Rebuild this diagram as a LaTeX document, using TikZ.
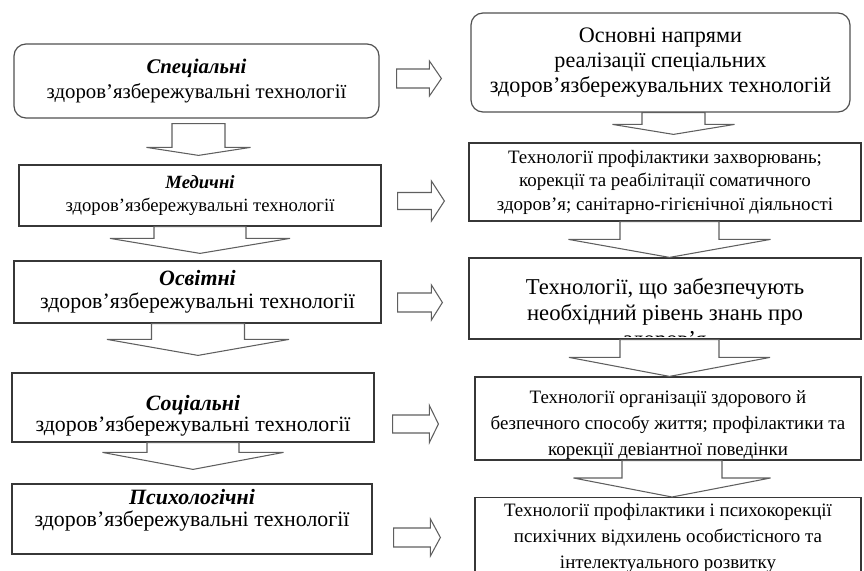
\documentclass[tikz,border=0pt]{standalone}
\usepackage{fontspec}
\setmainfont{Liberation Serif}
\usepackage{xcolor}
\definecolor{boxgray}{RGB}{55,55,55}
\definecolor{roundgray}{RGB}{80,80,80}
\definecolor{arrowgray}{RGB}{95,95,95}
\usepackage{tikz}
\usetikzlibrary{calc}

%% hollow block arrow pointing down: from, to, dx, shaft half, head half, head length, tip gap, start gap (px)
\newcommand{\vblock}[8]{%
  \draw[blockarr] let \p1=($(#1.south)+(#3,#8)$), \p2=($(#2.north)+(0,-#7)$) in
    ({\x1-#4*0.75pt},\y1) -- ({\x1-#4*0.75pt},{\y2+#6*0.75pt})
    -- ({\x1-#5*0.75pt},{\y2+#6*0.75pt}) -- (\x1,\y2)
    -- ({\x1+#5*0.75pt},{\y2+#6*0.75pt}) -- ({\x1+#4*0.75pt},{\y2+#6*0.75pt})
    -- ({\x1+#4*0.75pt},\y1) -- cycle;}
%% hollow block arrow pointing right: from, to, left gap, right gap, dy, shaft half, head half, head length (px)
\newcommand{\hblock}[8]{%
  \draw[blockarr] let \p1=($(#1.east)+(#3,#5)$), \p2=($(#2.west)+(-#4,0)$) in
    (\x1,{\y1+#6*0.75pt}) -- ({\x2-#8*0.75pt},{\y1+#6*0.75pt})
    -- ({\x2-#8*0.75pt},{\y1+#7*0.75pt}) -- (\x2,\y1)
    -- ({\x2-#8*0.75pt},{\y1-#7*0.75pt}) -- ({\x2-#8*0.75pt},{\y1-#6*0.75pt})
    -- (\x1,{\y1-#6*0.75pt}) -- cycle;}

\begin{document}
\begin{tikzpicture}[
  x=0.75pt, y=-0.75pt,
  lbox/.style={rectangle, draw=boxgray, line width=0.9pt, align=center, inner sep=1pt},
  roundbox/.style={lbox, rounded corners=9pt, draw=roundgray},
  boxtext/.style={align=center, inner sep=0pt},
  blockarr/.style={draw=arrowgray, line width=0.8pt, line join=miter},
  rtext/.style={font=\fontsize{14.2}{17.6}\selectfont}
]
\useasboundingbox (0,0) rectangle (864,571);
\clip (0,0) rectangle (864,571);

%% left column
\node[roundbox, font=\fontsize{15.6}{18.75}\selectfont, minimum width=273.75pt, minimum height=55.5pt] (spec) at (196.5,81)
  {\textbf{\textit{Спеціальні}}\\здоров’язбережувальні технології};
\node[lbox, font=\fontsize{14}{17}\selectfont, minimum width=271.5pt, minimum height=45.75pt] (med) at (200,195.5)
  {\textbf{\textit{Медичні}}\\здоров’язбережувальні технології};
\node[lbox, font=\fontsize{16.4}{17.5}\selectfont, minimum width=275.25pt, minimum height=46.5pt] (osv) at (197.5,292)
  {\textbf{\textit{Освітні}}\\здоров’язбережувальні технології};
\node[lbox, minimum width=271.5pt, minimum height=51.75pt] (soc) at (193,407.5) {};
\node[boxtext, font=\fontsize{16.4}{15.5}\selectfont] (soctxt) at ($(soc)+(0,8)$)
  {\textbf{\textit{Соціальні}}\\здоров’язбережувальні технології};
\node[lbox, minimum width=270pt, minimum height=52.5pt] (psy) at (192,519) {};
\node[boxtext, font=\fontsize{16.4}{16.5}\selectfont] (psytxt) at ($(psy)+(0,-9)$)
  {\textbf{\textit{Психологічні}}\\здоров’язбережувальні технології};

%% right column
\node[roundbox, font=\fontsize{16.6}{19}\selectfont, minimum width=284.25pt, minimum height=74.25pt] (napr) at (660.5,62.5)
  {Основні напрями\\реалізації спеціальних\\здоров’язбережувальних технологій};
\node[lbox, rtext, minimum width=294pt, minimum height=58.5pt] (rmed) at (665,182)
  {Технології профілактики захворювань;\\корекції та реабілітації соматичного\\здоров’я; санітарно-гігієнічної діяльності};
\node[lbox, minimum width=294pt, minimum height=60.75pt] (rosv) at (665,298.5) {};
\begin{scope}
  \clip ($(rosv.south west)+(0,-3)$) rectangle (rosv.north east);
  \node[boxtext, anchor=north, font=\fontsize{17}{19.5}\selectfont] (rosvtxt)
    at ($(rosv.north)+(0,21)$) {Технології, що забезпечують\\необхідний рівень знань про\\здоров’я};
\end{scope}
\node[lbox, minimum width=289.5pt, minimum height=62.25pt] (rsoc) at (668,418.5) {};
\node[boxtext, font=\fontsize{14.2}{19.5}\selectfont] (rsoctxt) at ($(rsoc)+(0,7)$)
  {Технології організації здорового й\\безпечного способу життя; профілактики та\\корекції девіантної поведінки};
\node[lbox, anchor=north, minimum width=289.5pt, minimum height=75pt] (rpsy) at (668,497) {};
\node[boxtext, anchor=north, font=\fontsize{14.2}{19.5}\selectfont] (rpsytxt)
  at ($(rpsy.north)+(0,6)$) {Технології профілактики і психокорекції\\психічних відхилень особистісного та\\інтелектуального розвитку};

%% down arrows
\vblock{spec}{med}{2}{26.5}{52}{8}{9}{5}
\vblock{med}{osv}{0}{46}{90}{15}{7}{0}
\vblock{osv}{soc}{0.5}{46.5}{91}{16}{17}{0}
\vblock{soc}{psy}{0}{46}{90.5}{17}{14}{0}
\vblock{napr}{rmed}{13}{31.5}{61}{10}{8}{0}
\vblock{rmed}{rosv}{4.5}{49.5}{101}{18}{0}{0}
\vblock{rosv}{rsoc}{4.5}{49.5}{100.5}{19}{0}{0}
\vblock{rsoc}{rpsy}{4}{50}{98.5}{19}{0}{0}

%% side arrows
\hblock{spec}{napr}{17}{29}{-2.5}{9.5}{17.5}{12}
\hblock{med}{rmed}{16}{24}{5.5}{8.5}{20}{13}
\hblock{osv}{rosv}{16}{26}{10.5}{9.5}{17.5}{11}
\hblock{soc}{rsoc}{18}{36}{16.5}{9}{18.5}{9}
\hblock{psy}{rpsy}{21}{34}{18.5}{9.5}{18.5}{10}

\end{tikzpicture}
\end{document}
